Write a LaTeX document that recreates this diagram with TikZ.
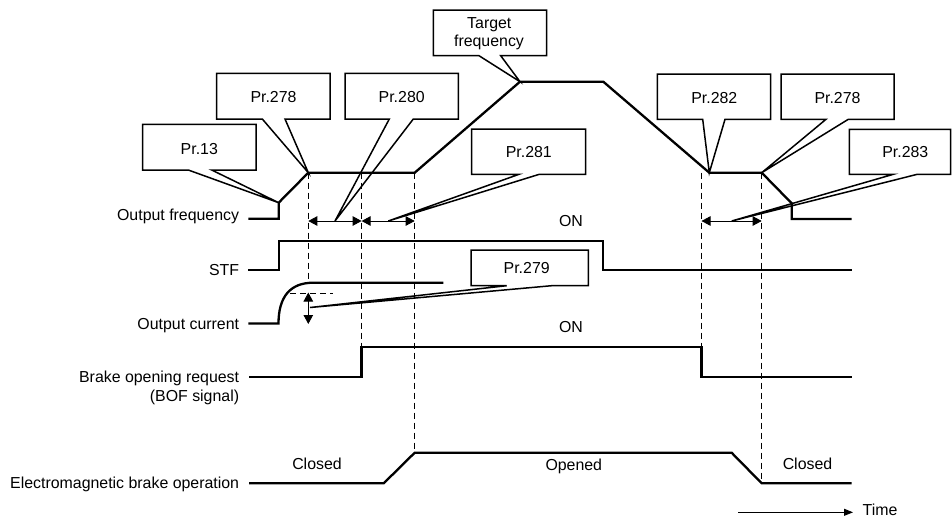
\documentclass[tikz,border=0pt]{standalone}
\usepackage{fontspec}
\setmainfont{Liberation Sans}
\usetikzlibrary{arrows.meta}
\begin{document}
\begin{tikzpicture}[x=1pt,y=-1pt,
  sig/.style={line width=2.3pt, line join=miter},
  co/.style={line width=1.5pt, line join=miter},
  dsh/.style={line width=0.9pt, dash pattern=on 6pt off 4pt},
  dimarr/.style={line width=0.9pt, {Triangle[length=9pt,width=9.5pt]}-{Triangle[length=9pt,width=9.5pt]}},
  lbl/.style={font=\fontsize{15.9}{19}\selectfont, inner sep=0pt},
  ]
\useasboundingbox (0,0) rectangle (952,517);

% ---- key coordinates
\coordinate (t13) at (278.7,202.7);
\coordinate (t278a) at (308.3,172.7);
\coordinate (t280) at (335,221);
\coordinate (t281) at (388.3,221);
\coordinate (ttf) at (520,81.7);
\coordinate (t282) at (709.3,172.7);
\coordinate (t278b) at (761.7,172.7);
\coordinate (t283) at (731.7,221);
\coordinate (t279) at (310,307.5);

% ---- dashed timing lines
\draw[dsh] (308.3,172.7) -- (308.3,282.7);
\draw[dsh] (361.6,172.7) -- (361.6,347.3);
\draw[dsh] (414.7,172.7) -- (414.7,452.7);
\draw[dsh] (701.5,172.7) -- (701.5,347.3);
\draw[dsh] (761.7,172.7) -- (761.7,483.3);
\draw[dsh] (290,293.3) -- (333.3,293.3);

% ---- signals
\draw[sig] (248.3,218.7) -- (278.7,218.7) -- (t13) -- (t278a) -- (414.7,172.7) -- (ttf) -- (603.3,81.7) -- (t282) -- (t278b) -- (791.7,203.3) -- (791.7,219) -- (851.7,219);
\draw[sig] (248.3,270.3) -- (278.7,270.3) -- (278.7,240.7) -- (603.3,240.7) -- (603.3,270.3) -- (851.7,270.3);
\draw[sig] (248.3,323.5) -- (278.5,323.5) .. controls (278.5,297) and (290,282.7) .. (313.3,282.7) -- (443.3,282.7);
\draw[sig] (249,376.7) -- (361.6,376.7) -- (361.6,347.3) -- (701.5,347.3) -- (701.5,376.7) -- (851.7,376.7);
\draw[sig] (249,483.3) -- (383.7,483.3) -- (414.7,452.7) -- (731.6,452.7) -- (761.7,483.3) -- (851.7,483.3);

% ---- dimension arrows
\draw[dimarr] (308.3,221) -- (361.6,221);
\draw[dimarr] (361.6,221) -- (414.7,221);
\draw[dimarr] (701.5,221) -- (761.7,221);
\draw[dimarr] (308.3,292.5) -- (308.3,324);

% ---- callouts
\draw[co] (216.7,73.3) -- (330,73.3) -- (330,119) -- (285,119) -- (t278a) -- (262.3,119) -- (216.7,119) -- cycle;
\node[lbl, anchor=base] (c278a) at (273.5,102.3) {Pr.278};
\draw[co] (345,73.3) -- (458.3,73.3) -- (458.3,119) -- (413.3,119) -- (t280) -- (389.3,119) -- (345,119) -- cycle;
\node[lbl, anchor=base] (c280) at (401.7,102.3) {Pr.280};
\draw[co] (142.7,124.3) -- (256,124.3) -- (256,170) -- (211.7,170) -- (t13) -- (188.3,170) -- (142.7,170) -- cycle;
\node[lbl, anchor=base] (c13) at (199.3,154) {Pr.13};
\draw[co] (433.3,10) -- (546.7,10) -- (546.7,55.7) -- (500.7,55.7) -- (ttf) -- (479,55.7) -- (433.3,55.7) -- cycle;
\node[lbl, anchor=base] (ctf1) at (489.3,28.3) {Target};
\node[lbl, anchor=base] (ctf2) at (489,46.7) {frequency};
\draw[co] (471.7,129) -- (585.7,129) -- (585.7,174.3) -- (539.3,174.3) -- (t281) -- (519,174.3) -- (471.7,174.3) -- cycle;
\node[lbl, anchor=base] (c281) at (528.8,157.3) {Pr.281};
\draw[co] (657.3,74) -- (770.7,74) -- (770.7,119.3) -- (725,119.3) -- (t282) -- (702.7,119.3) -- (657.3,119.3) -- cycle;
\node[lbl, anchor=base] (c282) at (714.3,103.3) {Pr.282};
\draw[co] (781,74) -- (894,74) -- (894,119.3) -- (848.3,119.3) -- (t278b) -- (826,119.3) -- (781,119.3) -- cycle;
\node[lbl, anchor=base] (c278b) at (837.5,103.3) {Pr.278};
\draw[co] (849.3,129.3) -- (950.5,129.3) -- (950.5,174.3) -- (917.3,174.3) -- (t283) -- (893.3,174.3) -- (849.3,174.3) -- cycle;
\node[lbl, anchor=base] (c283) at (905.3,157.7) {Pr.283};
\draw[co] (471,250) -- (588.3,250) -- (588.3,285.7) -- (551.7,285.7) -- (t279) -- (506.7,285.7) -- (471,285.7) -- cycle;
\node[lbl, anchor=base] (c279) at (526.7,273.3) {Pr.279};

% ---- row labels
\node[lbl, anchor=base east] (lof) at (239.3,220) {Output frequency};
\node[lbl, anchor=base east] (lstf) at (239.3,275) {STF};
\node[lbl, anchor=base east] (loc) at (239.3,329.3) {Output current};
\node[lbl, anchor=base east] (lbor) at (239.3,382) {Brake opening request};
\node[lbl, anchor=base east] (lbof) at (239.3,401.3) {(BOF signal)};
\node[lbl, anchor=base east] (lemb) at (239.3,488.7) {Electromagnetic brake operation};

% ---- state texts
\node[lbl, anchor=base] (on1) at (571,226.7) {ON};
\node[lbl, anchor=base] (on2) at (571,332.3) {ON};
\node[lbl, anchor=base] (cl1) at (317,469.7) {Closed};
\node[lbl, anchor=base] (op) at (573.8,470.7) {Opened};
\node[lbl, anchor=base] (cl2) at (807.5,469.7) {Closed};

% ---- time arrow
\node[lbl, anchor=base west] (time) at (862.5,515.5) {Time};
\coordinate (tstart) at (738.3,512.3);
\coordinate (tend) at (853,512.3);
\draw[line width=0.9pt, -{Triangle[length=9pt,width=7pt]}] (tstart) -- (tend);
\end{tikzpicture}
\end{document}
